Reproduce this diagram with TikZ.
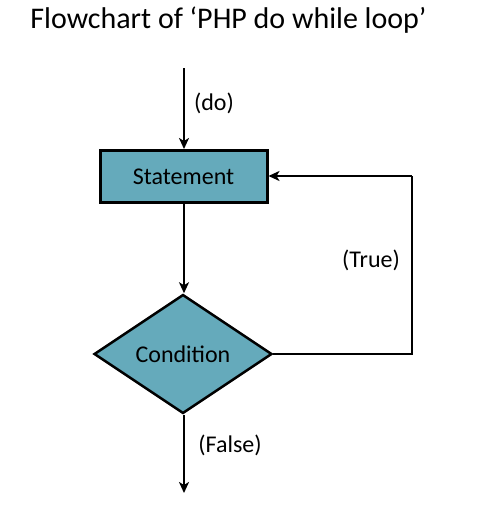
\documentclass[tikz,border=0pt]{standalone}
\usepackage{fontspec}
\setmainfont{Carlito}
\usetikzlibrary{shapes.geometric,arrows.meta}
\definecolor{tealfill}{RGB}{101,170,187}
\begin{document}
\begin{tikzpicture}[x=1pt,y=-1pt,
  lbl/.style={font=\fontsize{24}{28}\selectfont,inner sep=0pt},
  procbox/.style={draw=black,line width=3pt,fill=tealfill,minimum width=167pt,minimum height=52pt,inner sep=0pt,font=\fontsize{24}{28}\selectfont},
  decbox/.style={diamond,draw=black,line width=2.5pt,fill=tealfill,minimum width=178pt,minimum height=119pt,inner sep=0pt,aspect=1.5,font=\fontsize{24}{28}\selectfont},
  conn/.style={line width=2pt,-{Stealth[length=11pt,width=10pt,inset=3pt]}},
  plain/.style={line width=2pt}]
\useasboundingbox (0,0) rectangle (478,506);
\node[font=\fontsize{30}{36}\selectfont,inner sep=0pt,anchor=base] (title) at (228.5,28) {Flowchart of ‘PHP do while loop’};
\coordinate (start) at (184,68);
\node[procbox] (stmt) at (183.5,176.5) {Statement};
\node[decbox] (cond) at (183,354) {Condition};
\coordinate (rb) at (412,354);
\coordinate (rt) at (412,176);
\coordinate (fin) at (184,493);
\draw[conn] (start) -- (stmt.north -| start);
\draw[conn] (stmt.south -| start) -- (cond.north -| start);
\draw[plain] (cond.east) -- (rb) -- (rt);
\draw[conn] (rt) -- (stmt.east |- rt);
\draw[conn] (cond.south -| fin) -- (fin);
\node[lbl] (dolbl) at (214,103) {(do)};
\node[lbl] (truelbl) at (371,260) {(True)};
\node[lbl] (falselbl) at (230,445) {(False)};
\end{tikzpicture}
\end{document}
